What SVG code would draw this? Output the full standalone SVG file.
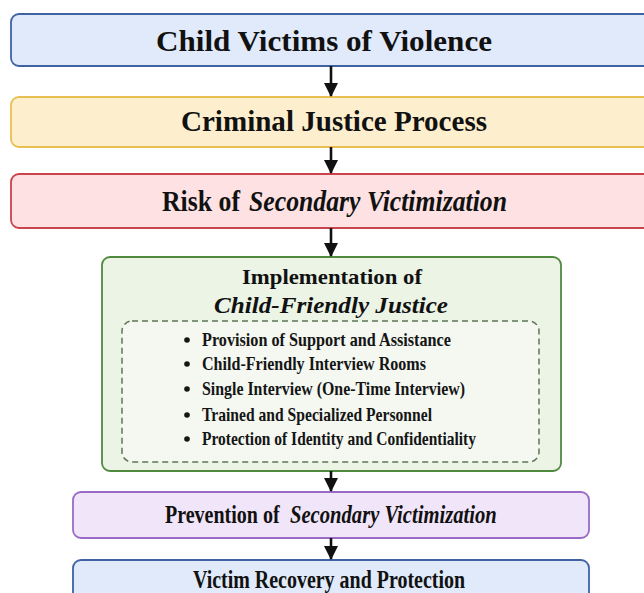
<svg xmlns="http://www.w3.org/2000/svg" width="644" height="593" viewBox="0 0 644 593">
<style>
.t{font-family:"Liberation Serif","Times New Roman",serif;font-weight:bold;fill:#111;text-anchor:middle}
.s{font-family:"Liberation Serif","Times New Roman",serif;font-weight:bold;fill:#111}
.b{font-family:"Liberation Serif","Times New Roman",serif;font-weight:bold;fill:#151515;font-size:19px}
.i{font-style:italic}
.con line{stroke:#111;stroke-width:2.6}
</style>
<defs>
<marker id="ah" markerWidth="14" markerHeight="14" refX="13" refY="7" orient="auto" markerUnits="userSpaceOnUse" viewBox="0 0 14 14">
<path d="M0,0 L14,7 L0,14 Z" fill="#111"/>
</marker>
</defs>
<rect width="644" height="593" fill="#ffffff"/>
<g id="n1">
<rect x="11" y="14" width="660" height="52" rx="8" fill="#e0eafa" stroke="#3e62a2" stroke-width="1.8"/>
<text class="t" x="324" y="51" font-size="30" textLength="336" lengthAdjust="spacingAndGlyphs">Child Victims of Violence</text>
</g>
<g id="n2">
<rect x="11" y="97" width="660" height="50" rx="8" fill="#fdefcd" stroke="#e8bf50" stroke-width="1.8"/>
<text class="t" x="334" y="131" font-size="29" textLength="306" lengthAdjust="spacingAndGlyphs">Criminal Justice Process</text>
</g>
<g id="n3">
<rect x="11" y="174" width="660" height="54" rx="8" fill="#fde1e3" stroke="#c9444d" stroke-width="1.8"/>
<text class="s" x="162" y="211" font-size="29" textLength="78" lengthAdjust="spacingAndGlyphs">Risk of</text>
<text class="s i" x="249" y="211" font-size="29" textLength="258" lengthAdjust="spacingAndGlyphs">Secondary Victimization</text>
</g>
<g id="n4">
<rect x="102" y="257" width="459" height="214" rx="8" fill="#ebf4e5" stroke="#4f8a3f" stroke-width="1.8"/>
<text class="t" x="332" y="284" font-size="22" textLength="180" lengthAdjust="spacingAndGlyphs">Implementation of</text>
<text class="t i" x="331" y="313" font-size="23" textLength="234" lengthAdjust="spacingAndGlyphs">Child-Friendly Justice</text>
<rect x="122" y="321" width="417" height="141" rx="10" fill="#f4f8f1" stroke="#5d7555" stroke-width="1.5" stroke-dasharray="6 4"/>
<g fill="#151515">
<circle cx="187" cy="340" r="2.8"/>
<circle cx="187" cy="364" r="2.8"/>
<circle cx="187" cy="389" r="2.8"/>
<circle cx="187" cy="415" r="2.8"/>
<circle cx="187" cy="439" r="2.8"/>
</g>
<text class="b" x="202" y="346" textLength="249" lengthAdjust="spacingAndGlyphs">Provision of Support and Assistance</text>
<text class="b" x="202" y="370" textLength="224" lengthAdjust="spacingAndGlyphs">Child-Friendly Interview Rooms</text>
<text class="b" x="202" y="395" textLength="263" lengthAdjust="spacingAndGlyphs">Single Interview (One-Time Interview)</text>
<text class="b" x="202" y="421" textLength="230" lengthAdjust="spacingAndGlyphs">Trained and Specialized Personnel</text>
<text class="b" x="202" y="445" textLength="274" lengthAdjust="spacingAndGlyphs">Protection of Identity and Confidentiality</text>
</g>
<g id="n5">
<rect x="73" y="492" width="516" height="46" rx="8" fill="#f1e5f9" stroke="#9a6bc6" stroke-width="1.8"/>
<text class="s" x="0" y="0" font-size="25" transform="matrix(0.8 0 0 1 165 523)">Prevention of</text>
<text class="s i" x="0" y="0" font-size="25" transform="matrix(0.825 0 0 1 290 523)">Secondary Victimization</text>
</g>
<g id="n6">
<rect x="73" y="560" width="516" height="60" rx="8" fill="#e0eafa" stroke="#3e62a2" stroke-width="1.8"/>
<text class="t" x="329" y="588" font-size="25" textLength="272" lengthAdjust="spacingAndGlyphs">Victim Recovery and Protection</text>
</g>
<g class="con" id="connectors">
<line x1="331" y1="66" x2="331" y2="96" marker-end="url(#ah)"/>
<line x1="331" y1="147" x2="331" y2="173" marker-end="url(#ah)"/>
<line x1="331" y1="228" x2="331" y2="256" marker-end="url(#ah)"/>
<line x1="331" y1="471" x2="331" y2="491" marker-end="url(#ah)"/>
<line x1="331" y1="538" x2="331" y2="559" marker-end="url(#ah)"/>
</g>
</svg>
